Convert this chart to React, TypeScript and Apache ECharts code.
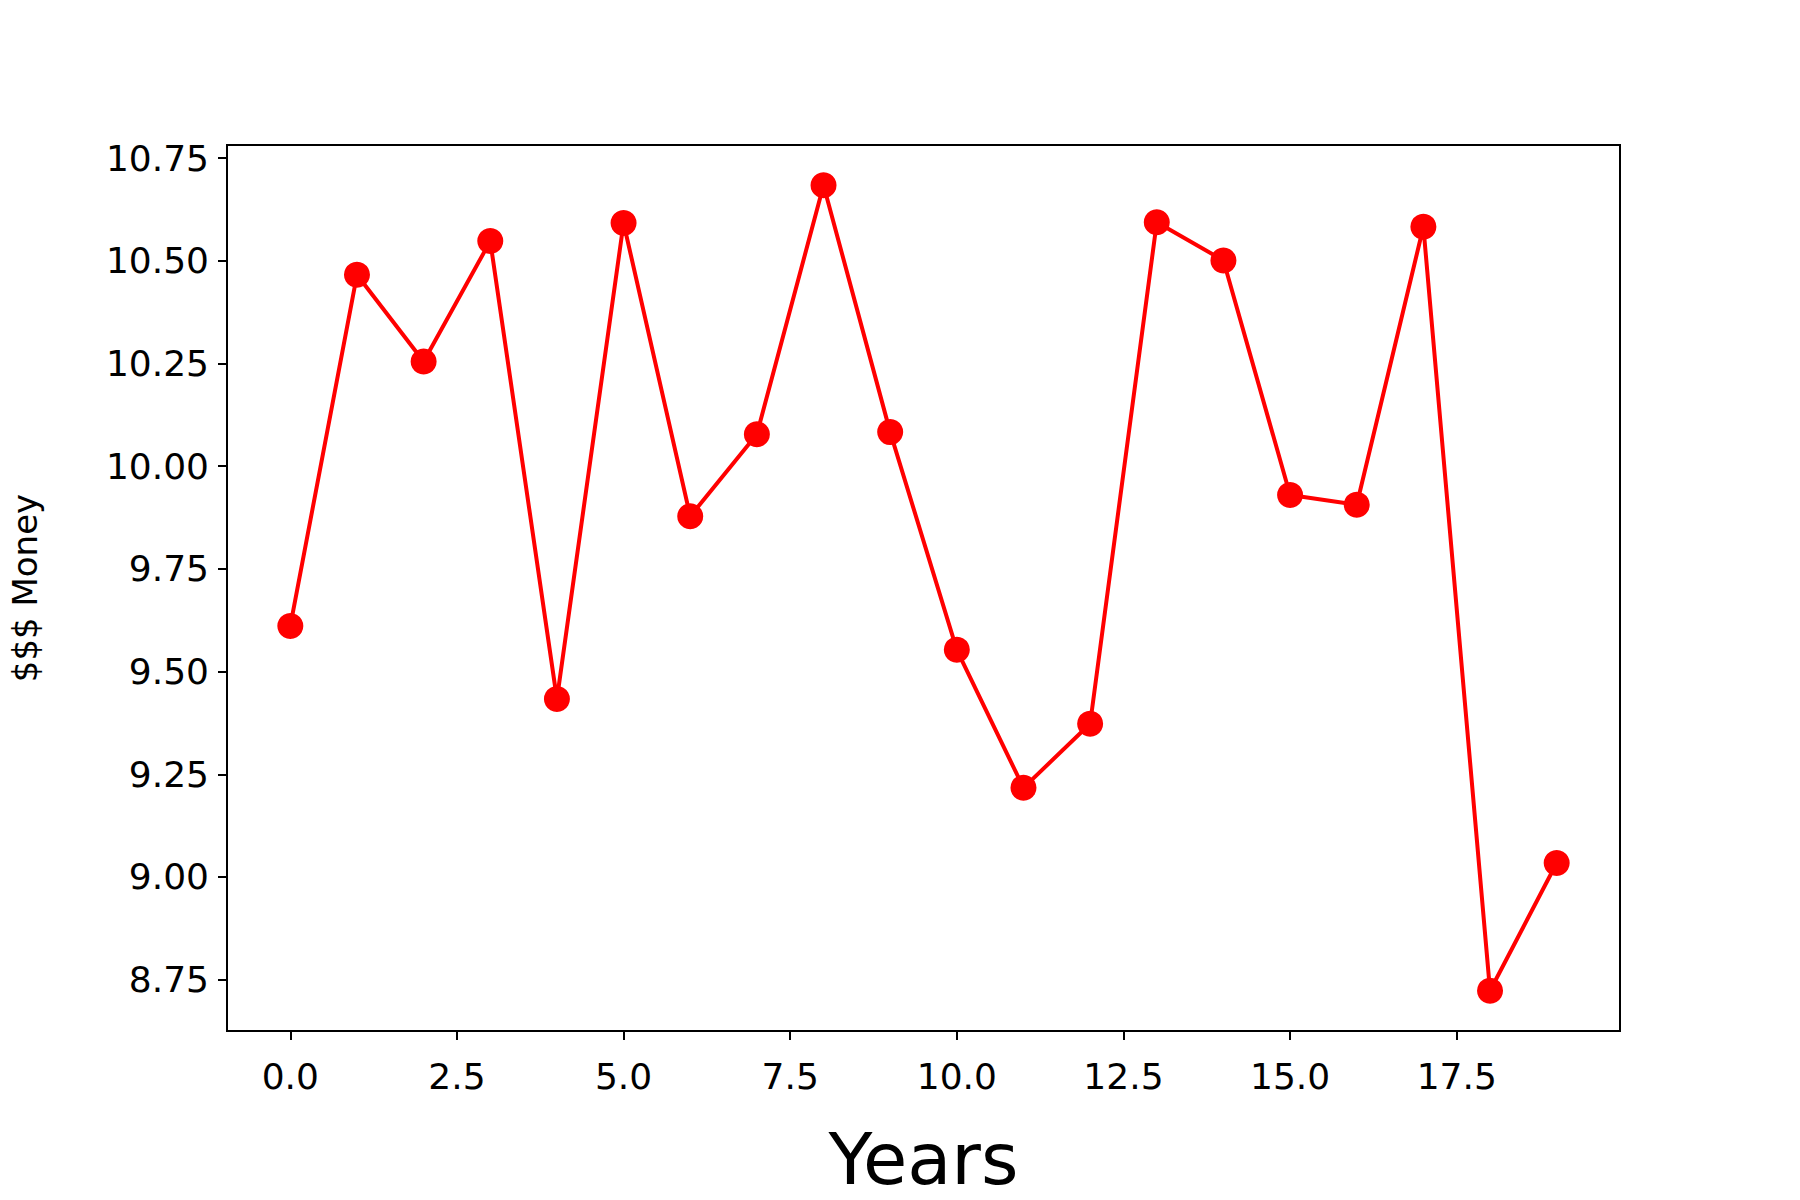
import React, { useRef, useEffect } from 'react';
import * as echarts from 'echarts';

const years = [0, 1, 2, 3, 4, 5, 6, 7, 8, 9, 10, 11, 12, 13, 14, 15, 16, 17, 18, 19];
const money = [9.611, 10.466, 10.255, 10.548, 9.433, 10.592, 9.878, 10.078, 10.684, 10.083,
  9.553, 9.217, 9.373, 10.594, 10.501, 9.93, 9.906, 10.583, 8.723, 9.034];
const xTicks = [0, 2.5, 5, 7.5, 10, 12.5, 15, 17.5];
const yTicks = [8.75, 9, 9.25, 9.5, 9.75, 10, 10.25, 10.5, 10.75];

const App: React.FC = () => {
  const chartRef = useRef<HTMLDivElement>(null);
  useEffect(() => {
    document.body.style.margin = '0';
    let chart: echarts.ECharts | null = null;
    if (chartRef.current) {
      chart = echarts.init(chartRef.current, undefined, { renderer: 'svg' });
      const font = 'DejaVu Sans';
      chart.setOption({
        animation: false,
        backgroundColor: '#fff',
        grid: {
          left: 227, right: 180, top: 145, bottom: 147,
          show: true, borderColor: '#000', borderWidth: 2, backgroundColor: 'transparent',
        },
        xAxis: {
          type: 'value', min: -0.95, max: 19.95,
          name: 'Years', nameLocation: 'middle', nameGap: 92,
          nameTextStyle: { fontFamily: font, fontSize: 72, color: '#000' },
          axisLine: { show: true, onZero: false, lineStyle: { color: '#000', width: 2 } },
          axisTick: { show: true, length: 9, lineStyle: { color: '#000', width: 2 }, customValues: xTicks },
          axisLabel: {
            margin: 27, fontFamily: font, fontSize: 36, color: '#000',
            customValues: xTicks, formatter: (v: number) => v.toFixed(1),
          },
          splitLine: { show: false },
        },
        yAxis: {
          type: 'value', min: 8.625, max: 10.782,
          name: '$$$ Money', nameLocation: 'middle', nameGap: 185,
          nameTextStyle: { fontFamily: font, fontSize: 34, color: '#000' },
          axisLine: { show: true, onZero: false, lineStyle: { color: '#000', width: 2 } },
          axisTick: { show: true, length: 9, lineStyle: { color: '#000', width: 2 }, customValues: yTicks },
          axisLabel: {
            margin: 18, fontFamily: font, fontSize: 36, color: '#000',
            customValues: yTicks, formatter: (v: number) => v.toFixed(2),
          },
          splitLine: { show: false },
        },
        series: [{
          type: 'line',
          data: years.map((y, i) => [y, money[i]]),
          symbol: 'circle', symbolSize: 26,
          lineStyle: { color: '#ff0000', width: 4 },
          itemStyle: { color: '#ff0000' },
        }],
      });
    }
    return () => { chart?.dispose(); };
  }, []);
  return <div ref={chartRef} style={{ width: 1800, height: 1200 }} />;
};

export default App;
